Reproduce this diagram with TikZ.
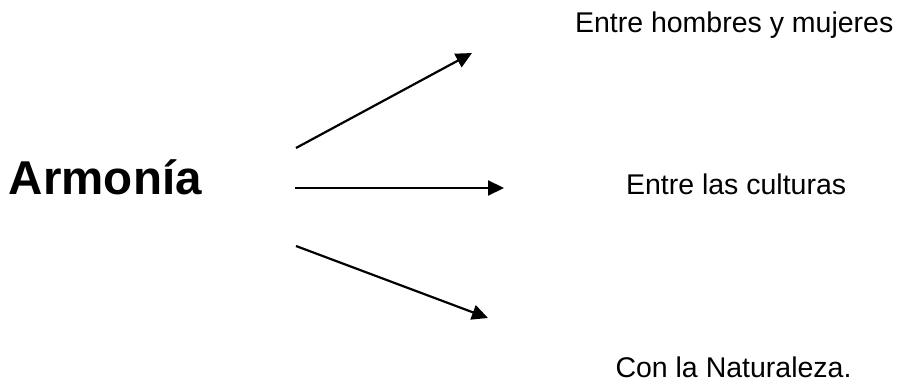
\documentclass[tikz,border=0pt]{standalone}
\usepackage{fontspec}
\setmainfont{Liberation Sans}
\usetikzlibrary{arrows.meta}
\begin{document}
\begin{tikzpicture}[x=1pt,y=1pt,
  lbl/.style={inner sep=0pt,outer sep=0pt,anchor=base west,font=\fontsize{28.5}{34}\selectfont},
  title/.style={inner sep=0pt,outer sep=0pt,anchor=base west,font=\fontsize{47.5}{56}\selectfont\bfseries},
  arr/.style={line width=2.2pt,-{Triangle[length=16pt,width=15pt]}}]
\useasboundingbox[fill=white] (0,0) rectangle (905,383);
\node[title] (arm) at (9,188) {Armonía};
\node[lbl] (t1) at (575,350) {Entre hombres y mujeres};
\node[lbl] (t2) at (626,188) {Entre las culturas};
\node[lbl] (t3) at (615.5,6) {Con la Naturaleza.};
\coordinate (s1) at (296,235);
\coordinate (e1) at (472,330);
\coordinate (s2) at (295,195);
\coordinate (e2) at (504,195);
\coordinate (s3) at (296,137);
\coordinate (e3) at (488,65);
\draw[arr] (s1) -- (e1);
\draw[arr] (s2) -- (e2);
\draw[arr] (s3) -- (e3);
\end{tikzpicture}
\end{document}
